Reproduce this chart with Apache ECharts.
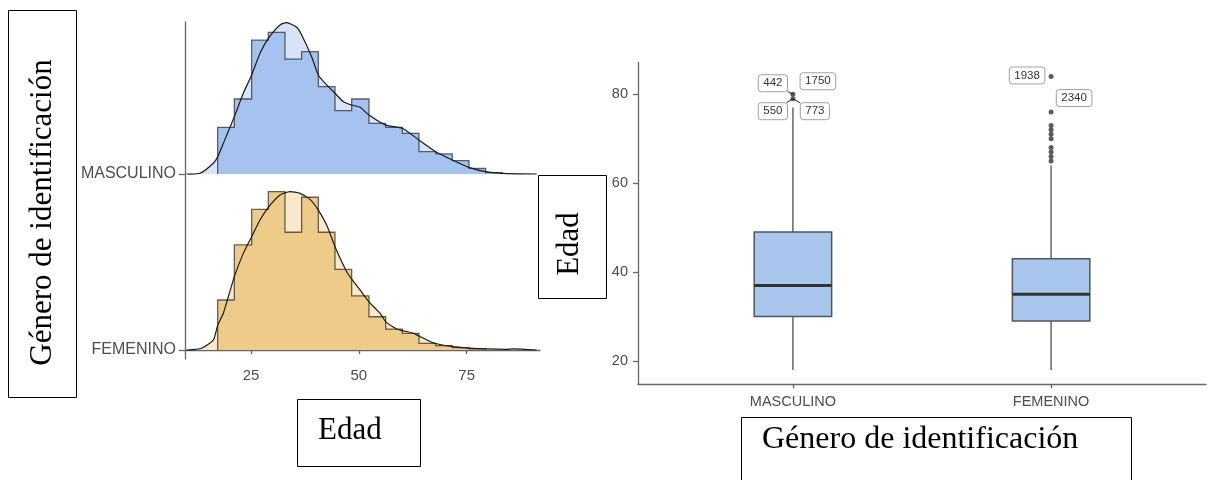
<!DOCTYPE html>
<html><head><meta charset="utf-8">
<script src="https://cdn.jsdelivr.net/npm/echarts@6/dist/echarts.min.js"></script>
<style>html,body{margin:0;padding:0;background:#fff}#c{width:1208px;height:480px}</style>
</head><body><div id="c"></div>
<script>
// ---------- Ridgeline (izquierda) ----------
const ridgeCategorias = ['FEMENINO', 'MASCULINO'];   // 0 = abajo, 1 = arriba
const edadTicks = [25, 50, 75];
const histBordes = [17.27, 21.14, 25.15, 29.02, 32.88, 36.74, 40.61, 44.47, 48.34, 52.35, 56.22, 60.08, 63.94, 67.81, 71.67, 75.53, 79.40, 83.26];
const histMasculino = [0.265, 0.426, 0.761, 0.805, 0.653, 0.695, 0.496, 0.360, 0.426, 0.288, 0.265, 0.231, 0.127, 0.114, 0.076, 0.032, 0.008];
const histFemenino  = [0.284, 0.597, 0.799, 0.900, 0.669, 0.868, 0.669, 0.458, 0.307, 0.189, 0.119, 0.095, 0.038, 0.025, 0.013, 0.006];
const densEdadMasculino = [10.09, 13.18, 16.27, 17.27, 18.59, 21.14, 23.22, 25.15, 27.09, 29.02, 31.72, 33.27, 35.59, 36.75, 39.06, 40.61, 42.54, 44.47, 46.40, 48.34, 50.27, 52.35, 56.22, 60.08, 63.94, 67.81, 71.67, 75.53, 79.40, 83.26, 91.22];
const densAlturaMasculino = [0, 0.004, 0.061, 0.098, 0.174, 0.326, 0.459, 0.563, 0.686, 0.771, 0.847, 0.860, 0.834, 0.790, 0.666, 0.563, 0.506, 0.459, 0.411, 0.392, 0.379, 0.335, 0.278, 0.260, 0.193, 0.127, 0.080, 0.038, 0.013, 0.004, 0];
const densEdadFemenino = [10.09, 13.56, 16.27, 17.27, 18.59, 21.14, 23.22, 25.15, 27.09, 29.02, 31.72, 34.04, 36.36, 38.68, 40.61, 42.54, 44.63, 47.18, 48.49, 50.27, 52.35, 54.90, 56.22, 58.77, 60.08, 62.63, 63.94, 67.26, 71.67, 75.53, 79.63, 84.26, 85.81, 91.22];
const densAlturaFemenino = [0, 0.010, 0.057, 0.140, 0.209, 0.417, 0.549, 0.644, 0.739, 0.811, 0.881, 0.900, 0.890, 0.856, 0.795, 0.710, 0.578, 0.445, 0.398, 0.341, 0.274, 0.209, 0.161, 0.119, 0.110, 0.095, 0.080, 0.041, 0.019, 0.011, 0.006, 0.004, 0.006, 0];

// ---------- Boxplot (derecha) ----------
const boxCategorias = ['MASCULINO', 'FEMENINO'];
const edadBoxTicks = [20, 40, 60, 80];
const boxMasculino = [18, 30, 37, 49, 77];   // min, Q1, mediana, Q3, max
const boxFemenino  = [18, 29, 35, 43, 64];
const atipicosMasculino = [79, 80];
const atipicosFemenino  = [65, 66, 67, 68, 70, 71, 72, 73, 76, 84];
const etiquetasId        = ['442', '1750', '550', '773', '1938', '2340'];
const etiquetasCategoria = [1, 1, 1, 1, 2, 2];
const etiquetasEdad      = [80, 80, 79, 79, 84, 76];

// ---------- layout / estilo ----------
const etiquetaDesplaz = [[-20, -11], [25, -13], [-20, 12.5], [22, 12.5], [-24, -1], [23, -14]];
const etiquetaSegmento = [true, false, true, true, false, false];
const AX = '#666', TXT = '#4d4d4d';
const SANS = '"Liberation Sans", Arial, sans-serif';
const SERIF = '"Liberation Serif", "Times New Roman", serif';

function polySeries(z, build) {
  return {type: 'custom', xAxisIndex: 0, yAxisIndex: 0, z: z, silent: true, clip: true,
    data: [0], renderItem: (p, api) => build(api)};
}
function densFill(base, xs, hs, color, z) {
  return polySeries(z, api => {
    const pts = xs.map((x, i) => api.coord([x, base + hs[i]]));
    pts.push(api.coord([xs[xs.length - 1], base]));
    pts.push(api.coord([xs[0], base]));
    return {type: 'polygon', shape: {points: pts}, style: {fill: color}};
  });
}
function densLine(base, xs, hs, z) {
  return polySeries(z, api => ({type: 'polyline',
    shape: {points: xs.map((x, i) => api.coord([x, base + hs[i]])), smooth: 0.2},
    style: {stroke: '#1a1a1a', lineWidth: 1.2, fill: null}}));
}
function histPts(api, base, edges, hs) {
  const pts = [api.coord([edges[0], base])];
  hs.forEach((h, i) => {
    pts.push(api.coord([edges[i], base + h]));
    pts.push(api.coord([edges[i + 1], base + h]));
  });
  pts.push(api.coord([edges[hs.length], base]));
  return pts;
}
function histFill(base, edges, hs, color, z) {
  return polySeries(z, api => ({type: 'polygon', shape: {points: histPts(api, base, edges, hs)}, style: {fill: color}}));
}
function histLine(base, edges, hs, z) {
  return polySeries(z, api => ({type: 'polyline', shape: {points: histPts(api, base, edges, hs)},
    style: {stroke: 'rgba(50,50,50,0.75)', lineWidth: 1.3, fill: null}}));
}

const boxData = [[1].concat(boxMasculino), [2].concat(boxFemenino)];
const atipicosData = atipicosMasculino.map(v => [1, v]).concat(atipicosFemenino.map(v => [2, v]));
const etiquetasData = etiquetasId.map((t, i) => [etiquetasCategoria[i], etiquetasEdad[i], i]);

const option = {
  animation: false,
  backgroundColor: '#fff',
  grid: [
    {left: 185, top: 22, width: 355, height: 337, containLabel: false, outerBoundsMode: 'none'},
    {left: 638, top: 62.7, width: 568, height: 321.6, containLabel: false, outerBoundsMode: 'none'}
  ],
  xAxis: [
    {type: 'value', gridIndex: 0, min: 9.7, max: 92.0,
      axisLine: {show: true, lineStyle: {color: AX, width: 1.3}},
      axisTick: {show: true, length: 4, lineStyle: {color: AX, width: 1.3}, customValues: edadTicks},
      axisLabel: {customValues: edadTicks, color: TXT, fontSize: 15, fontFamily: SANS, margin: 9},
      splitLine: {show: false}},
    {type: 'value', gridIndex: 1, min: 0.4, max: 2.6,
      axisLine: {show: true, lineStyle: {color: AX, width: 1.3}},
      axisTick: {show: true, length: 4, lineStyle: {color: AX, width: 1.3}, customValues: [1, 2]},
      axisLabel: {customValues: [1, 2], formatter: v => boxCategorias[Math.round(v) - 1], color: TXT, fontSize: 14.5, fontFamily: SANS, margin: 10},
      splitLine: {show: false}}
  ],
  yAxis: [
    {type: 'value', gridIndex: 0, min: -0.0511, max: 1.8636,
      axisLine: {show: true, lineStyle: {color: AX, width: 1.3}},
      axisTick: {show: true, length: 6, lineStyle: {color: AX, width: 1.3}, customValues: [0, 1]},
      axisLabel: {customValues: [0, 1], formatter: v => ridgeCategorias[Math.round(v)], color: TXT, fontSize: 16, fontFamily: SANS, margin: 9},
      splitLine: {show: false}},
    {type: 'value', gridIndex: 1, min: 14.76, max: 87.1,
      axisLine: {show: true, lineStyle: {color: AX, width: 1.3}},
      axisTick: {show: true, length: 5, lineStyle: {color: AX, width: 1.3}, customValues: edadBoxTicks},
      axisLabel: {customValues: edadBoxTicks, color: TXT, fontSize: 14.5, fontFamily: SANS, margin: 10},
      splitLine: {show: false}}
  ],
  series: [
    densFill(1, densEdadMasculino, densAlturaMasculino, '#d7e3f6', 1),
    histFill(1, histBordes, histMasculino, '#a6c3ef', 2),
    histLine(1, histBordes, histMasculino, 3),
    densLine(1, densEdadMasculino, densAlturaMasculino, 4),
    densFill(0, densEdadFemenino, densAlturaFemenino, '#f9e8cb', 1),
    histFill(0, histBordes, histFemenino, '#eecb88', 2),
    histLine(0, histBordes, histFemenino, 3),
    densLine(0, densEdadFemenino, densAlturaFemenino, 4),
    {type: 'custom', xAxisIndex: 1, yAxisIndex: 1, z: 2, silent: true, data: boxData,
      renderItem: (p, api) => {
        const c = api.value(0);
        const yMin = api.coord([c, api.value(1)])[1], yQ1 = api.coord([c, api.value(2)])[1],
              yMed = api.coord([c, api.value(3)])[1], yQ3 = api.coord([c, api.value(4)])[1],
              yMax = api.coord([c, api.value(5)])[1];
        const xC = api.coord([c, 0])[0];
        const half = api.size([0.3, 0])[0] / 2;
        const wl = {stroke: '#666', lineWidth: 1.5};
        return {type: 'group', children: [
          {type: 'line', shape: {x1: xC, y1: yMax, x2: xC, y2: yQ3}, style: wl},
          {type: 'line', shape: {x1: xC, y1: yQ1, x2: xC, y2: yMin}, style: wl},
          {type: 'rect', shape: {x: xC - half, y: yQ3, width: 2 * half, height: yQ1 - yQ3}, style: {fill: '#a9c6ef', stroke: '#555', lineWidth: 1.5}},
          {type: 'line', shape: {x1: xC - half, y1: yMed, x2: xC + half, y2: yMed}, style: {stroke: '#333', lineWidth: 3}}
        ]};
      }},
    {type: 'scatter', xAxisIndex: 1, yAxisIndex: 1, z: 3, silent: true, symbol: 'circle', symbolSize: 5,
      itemStyle: {color: '#333'}, data: atipicosData},
    {type: 'custom', xAxisIndex: 1, yAxisIndex: 1, z: 4, silent: true, data: etiquetasData,
      renderItem: (p, api) => {
        const i = api.value(2);
        const pt = api.coord([api.value(0), api.value(1)]);
        const off = etiquetaDesplaz[i];
        const cx = pt[0] + off[0], cy = pt[1] + off[1];
        const txt = etiquetasId[i];
        const hw = (txt.length * 6.4 + 10) / 2, hh = 8.5;
        const children = [];
        if (etiquetaSegmento[i]) {
          const t = 1 - Math.min(hw / Math.abs(off[0] || 1e-6), hh / Math.abs(off[1] || 1e-6));
          children.push({type: 'line', shape: {x1: pt[0], y1: pt[1], x2: pt[0] + off[0] * t, y2: pt[1] + off[1] * t},
            style: {stroke: '#222', lineWidth: 1}});
        }
        children.push({type: 'rect', shape: {x: cx - hw, y: cy - hh, width: 2 * hw, height: 2 * hh, r: 3},
          style: {fill: '#fff', stroke: '#888', lineWidth: 0.8}});
        children.push({type: 'text', x: cx, y: cy, style: {text: txt, align: 'center', verticalAlign: 'middle',
          font: '11.5px ' + SANS, fill: '#333'}});
        return {type: 'group', children: children};
      }}
  ],
  graphic: [
    {type: 'rect', shape: {x: 8.5, y: 10.5, width: 68, height: 387}, style: {fill: '#fff', stroke: '#000', lineWidth: 1}, z: 10},
    {type: 'text', x: 43, y: 212.5, rotation: Math.PI / 2, z: 11,
      style: {text: 'Género de identificación', font: '31px ' + SERIF, fill: '#000', align: 'center', verticalAlign: 'middle'}},
    {type: 'rect', shape: {x: 297.5, y: 399.5, width: 123, height: 67}, style: {fill: '#fff', stroke: '#000', lineWidth: 1}, z: 10},
    {type: 'text', x: 318, y: 431, z: 11,
      style: {text: 'Edad', font: '31px ' + SERIF, fill: '#000', align: 'left', verticalAlign: 'middle'}},
    {type: 'rect', shape: {x: 538.5, y: 175.5, width: 68, height: 123}, style: {fill: '#fff', stroke: '#000', lineWidth: 1}, z: 10},
    {type: 'text', x: 569.5, y: 244, rotation: Math.PI / 2, z: 11,
      style: {text: 'Edad', font: '31px ' + SERIF, fill: '#000', align: 'center', verticalAlign: 'middle'}},
    {type: 'rect', shape: {x: 741.5, y: 417.5, width: 390, height: 70}, style: {fill: '#fff', stroke: '#000', lineWidth: 1}, z: 10},
    {type: 'text', x: 762, y: 440, z: 11,
      style: {text: 'Género de identificación', font: '32px ' + SERIF, fill: '#000', align: 'left', verticalAlign: 'middle'}}
  ]
};
echarts.init(document.getElementById('c'), null, {renderer: 'canvas'}).setOption(option);
</script></body></html>
